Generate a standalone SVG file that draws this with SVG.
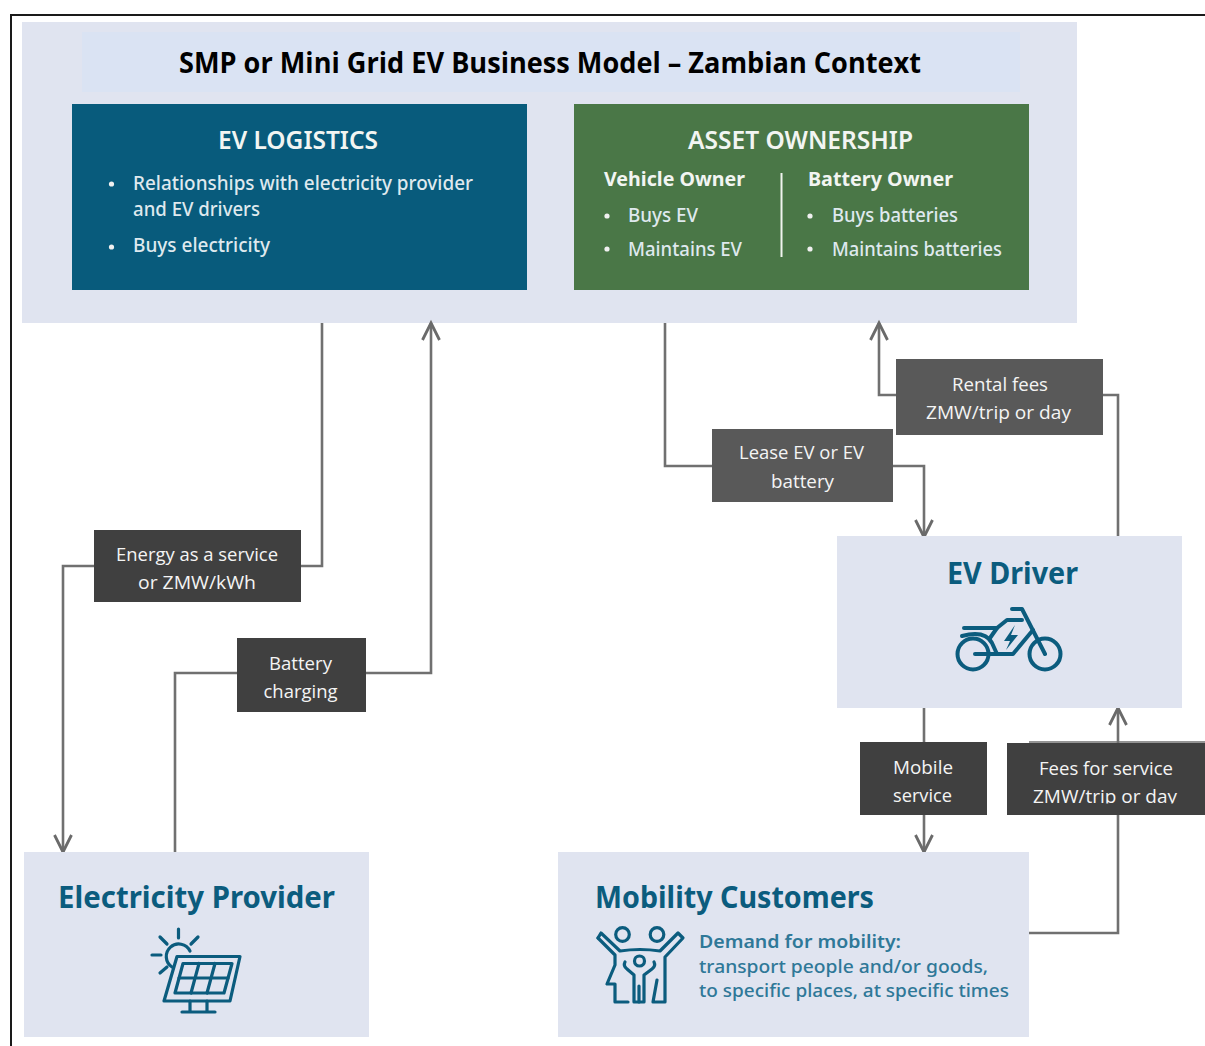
<svg xmlns="http://www.w3.org/2000/svg" width="1205" height="1046" viewBox="0 0 1205 1046">
<defs>
<marker id="arrow" markerUnits="userSpaceOnUse" markerWidth="24" markerHeight="24" refX="18" refY="10" orient="auto">
<path d="M1 1.500 L18 10 L1 18.500" fill="none" stroke="#6a6a6a" stroke-width="2.800"/>
</marker>
</defs>
<style>
text{font-family:"Noto Sans","Open Sans","Liberation Sans",sans-serif}
.panel{fill:#e0e4f0}
.lab{fill:#404040}
.lab2{fill:#595959}
.lt{font-family:"Open Sans","Noto Sans",sans-serif;font-size:18px;fill:#f4f4f4;text-anchor:middle}
.head{font-size:25px;font-weight:600;fill:#f2f5f2;text-anchor:middle}
.body{font-size:20px;font-weight:500;fill:#dfe9ee}
.sub{font-size:19px;font-weight:700;fill:#f2f5f2}
.bul{fill:#f0f0f0}
.ttl{font-size:31px;font-weight:700;fill:#0b5c7e}
.dem{font-size:18px;font-weight:500;fill:#2f7898}
.conn{fill:none;stroke:#707070;stroke-width:2.600}
.ico{fill:none;stroke:#0b5c7e;stroke-width:4;stroke-linejoin:round;stroke-linecap:round}
.ico2{fill:none;stroke:#0b5c7e;stroke-width:3.200;stroke-linejoin:round;stroke-linecap:round}
</style>
<rect width="1205" height="1046" fill="#fff"/>
<path d="M11 1046 V15 H1205" fill="none" stroke="#1a1a1a" stroke-width="2"/>

<g id="top-panel">
<rect class="panel" x="22" y="22" width="1055" height="301"/>
<rect x="82" y="32" width="938" height="60" fill="#dae3f3"/>
<text x="550" y="73" text-anchor="middle" font-size="28" font-weight="700" fill="#000" style="font-family:'Open Sans','Noto Sans',sans-serif" textLength="742" lengthAdjust="spacingAndGlyphs">SMP or Mini Grid EV Business Model – Zambian Context</text>
</g>

<g id="ev-logistics">
<rect x="72" y="104" width="455" height="186" fill="#085b7c"/>
<text class="head" x="298" y="149" textLength="160" lengthAdjust="spacingAndGlyphs">EV LOGISTICS</text>
<circle class="bul" cx="111.500" cy="184" r="2.600"/>
<text class="body" x="133" y="190" textLength="340" lengthAdjust="spacingAndGlyphs">Relationships with electricity provider</text>
<text class="body" x="133" y="216" textLength="127" lengthAdjust="spacingAndGlyphs">and EV drivers</text>
<circle class="bul" cx="111.500" cy="247" r="2.600"/>
<text class="body" x="133" y="252" textLength="137" lengthAdjust="spacingAndGlyphs">Buys electricity</text>
</g>

<g id="asset-ownership">
<rect x="574" y="104" width="455" height="186" fill="#4a7747"/>
<text class="head" x="800.500" y="149" textLength="225" lengthAdjust="spacingAndGlyphs">ASSET OWNERSHIP</text>
<text class="sub" x="604" y="186" textLength="141" lengthAdjust="spacingAndGlyphs">Vehicle Owner</text>
<circle class="bul" cx="607" cy="216" r="2.600"/>
<text class="body" x="628" y="222" textLength="70" lengthAdjust="spacingAndGlyphs">Buys EV</text>
<circle class="bul" cx="607" cy="249" r="2.600"/>
<text class="body" x="628" y="256" textLength="114" lengthAdjust="spacingAndGlyphs">Maintains EV</text>
<line x1="781.500" y1="173" x2="781.500" y2="257" stroke="#f0f4ef" stroke-width="2"/>
<text class="sub" x="808" y="186" textLength="145" lengthAdjust="spacingAndGlyphs">Battery Owner</text>
<circle class="bul" cx="810" cy="216" r="2.600"/>
<text class="body" x="832" y="222" textLength="126" lengthAdjust="spacingAndGlyphs">Buys batteries</text>
<circle class="bul" cx="810" cy="249" r="2.600"/>
<text class="body" x="832" y="256" textLength="170" lengthAdjust="spacingAndGlyphs">Maintains batteries</text>
</g>

<g id="connectors">
<path class="conn" d="M322 323 V566 H63 V852" marker-end="url(#arrow)"/>
<path class="conn" d="M175 852 V673 H431 V323" marker-end="url(#arrow)"/>
<path class="conn" d="M665 323 V466 H924 V537" marker-end="url(#arrow)"/>
<path class="conn" d="M1118 537 V395 H879 V323" marker-end="url(#arrow)"/>
<path class="conn" d="M924 708 V852" marker-end="url(#arrow)"/>
<path class="conn" d="M1029 933 H1118 V708" marker-end="url(#arrow)"/>
<path d="M1029 742 H1205" fill="none" stroke="#707070" stroke-width="1.500"/>
</g>

<g id="label-energy">
<rect class="lab" x="94" y="530" width="207" height="72"/>
<text class="lt" x="197" y="561" textLength="162" lengthAdjust="spacingAndGlyphs">Energy as a service</text>
<text class="lt" x="197" y="589" textLength="118" lengthAdjust="spacingAndGlyphs">or ZMW/kWh</text>
</g>
<g id="label-battery">
<rect class="lab" x="237" y="638" width="129" height="74"/>
<text class="lt" x="300.500" y="670" textLength="63" lengthAdjust="spacingAndGlyphs">Battery</text>
<text class="lt" x="300.500" y="698" textLength="74" lengthAdjust="spacingAndGlyphs">charging</text>
</g>
<g id="label-lease">
<rect class="lab2" x="712" y="429" width="181" height="73"/>
<text class="lt" x="801.500" y="459" textLength="125" lengthAdjust="spacingAndGlyphs">Lease EV or EV</text>
<text class="lt" x="802.500" y="488" textLength="63" lengthAdjust="spacingAndGlyphs">battery</text>
</g>
<g id="label-rental">
<rect class="lab2" x="896" y="359" width="207" height="76"/>
<text class="lt" x="1000" y="391" textLength="96" lengthAdjust="spacingAndGlyphs">Rental fees</text>
<text class="lt" x="998.500" y="419" textLength="145" lengthAdjust="spacingAndGlyphs">ZMW/trip or day</text>
</g>
<g id="label-mobile">
<rect class="lab" x="860" y="742" width="127" height="73"/>
<text class="lt" x="923" y="774" textLength="60" lengthAdjust="spacingAndGlyphs">Mobile</text>
<text class="lt" x="922.500" y="802" textLength="59" lengthAdjust="spacingAndGlyphs">service</text>
</g>
<g id="label-fees">
<rect class="lab" x="1007" y="743" width="198" height="72"/>
<text class="lt" x="1106" y="775" textLength="134" lengthAdjust="spacingAndGlyphs">Fees for service</text>
<text class="lt" x="1105" y="803" textLength="144" lengthAdjust="spacingAndGlyphs">ZMW/trip or day</text>
<rect class="lab" x="1007" y="803.500" width="198" height="11.500"/>
</g>

<g id="ev-driver">
<rect class="panel" x="837" y="536" width="345" height="172"/>
<text class="ttl" x="947" y="584" textLength="131" lengthAdjust="spacingAndGlyphs">EV Driver</text>
<g class="ico">
<circle cx="973" cy="654" r="15.500"/>
<circle cx="1045" cy="654" r="15.500"/>
<path d="M975 654 H1013 L1033 630"/>
<path d="M964 628 H997 L1007 620 H1022"/>
<path d="M1012 609 H1022 L1045 654"/>
<path d="M962 636 Q985 630 992 643 L997 654"/>
<path d="M997 628 L990 638"/>
</g>
<path d="M1015 625 L1004 641 H1010 L1006 650 L1018 635 H1011 Z" fill="#0b5c7e"/>
</g>

<g id="electricity-provider">
<rect class="panel" x="24" y="852" width="345" height="185"/>
<text class="ttl" x="58" y="908" textLength="277" lengthAdjust="spacingAndGlyphs">Electricity Provider</text>
<g class="ico2">
<path d="M172 967 A12.500 12.500 0 1 1 190 951"/>
<path d="M178.500 929 V938 M160 937 L167 944 M198 937 L191 944 M152 955 H161 M160 973 L167 967"/>
<path d="M177 956.500 H240 L230 1001 H164 Z"/>
<path d="M183 963.500 H232 L224 993 H175 Z"/>
<path d="M179 978 H228 M199 963.500 L191 993 M215 963.500 L207 993"/>
<path d="M190 1001 V1011 M207 1001 V1011 M182 1012 H215"/>
</g>
</g>

<g id="mobility-customers">
<rect class="panel" x="558" y="852" width="471" height="185"/>
<text class="ttl" x="595" y="908" textLength="279" lengthAdjust="spacingAndGlyphs">Mobility Customers</text>
<g class="ico2">
<circle cx="622.500" cy="934.500" r="6.800"/>
<circle cx="657" cy="934.500" r="6.800"/>
<circle cx="639.500" cy="961" r="5"/>
<path d="M598 938 L601 933 L620 951 Q640 948 660 951 L678 933 L683 938 L665 957 V1002 H653 L657 980"/>
<path d="M598 938 L615 955 V965 L607 984 H615 V1002 H628"/>
<path d="M625 962 Q623 966 627 969 L634 975 V1002 H644 V975 L652 969 Q656 966 654 962"/>
<path d="M639 986 V1002"/>
</g>
<text class="dem" x="699" y="948" style="font-weight:600" textLength="202" lengthAdjust="spacingAndGlyphs">Demand for mobility:</text>
<text class="dem" x="699" y="973" textLength="289" lengthAdjust="spacingAndGlyphs">transport people and/or goods,</text>
<text class="dem" x="699" y="997" textLength="310" lengthAdjust="spacingAndGlyphs">to specific places, at specific times</text>
</g>
</svg>
